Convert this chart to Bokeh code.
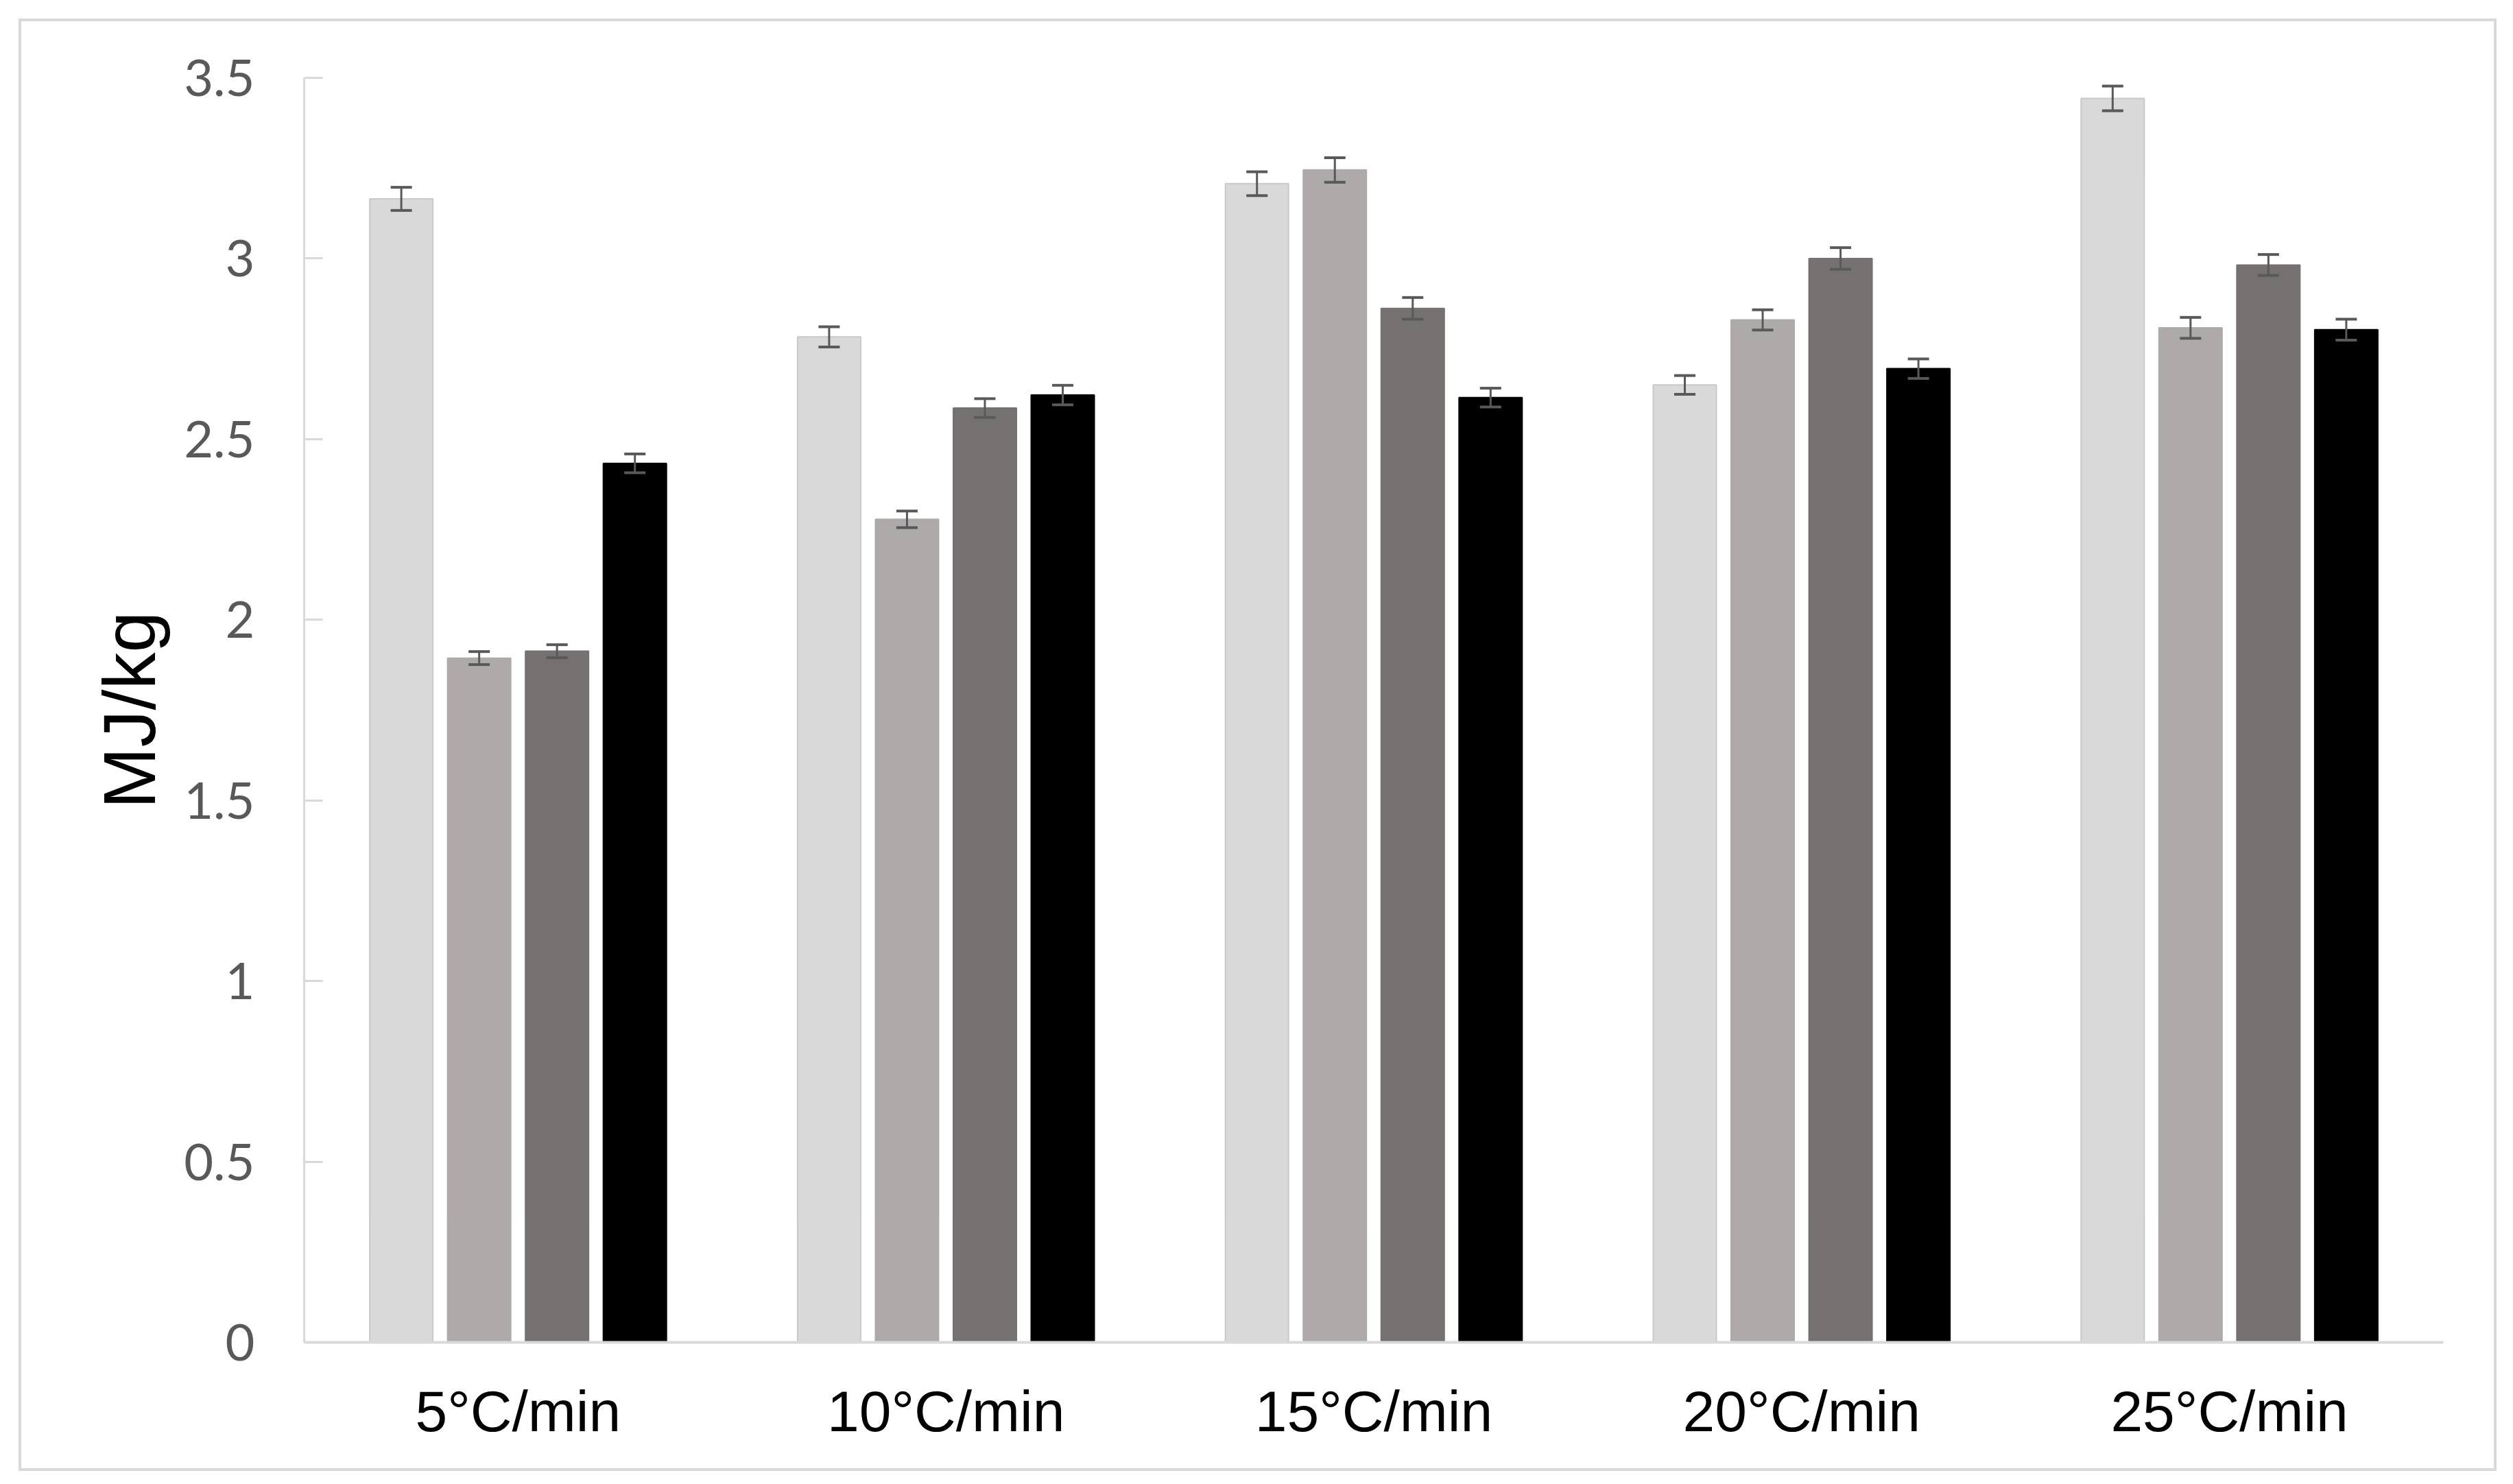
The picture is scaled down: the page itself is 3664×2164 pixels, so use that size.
from bokeh.plotting import figure
from bokeh.models import (ColumnDataSource, FactorRange, Range1d, FixedTicker,
                          Whisker, TeeHead)
from bokeh.transform import dodge
from bokeh.embed import file_html
from bokeh.resources import INLINE

# ---- data ----
categories = ["5°C/min", "10°C/min", "15°C/min", "20°C/min", "25°C/min"]
series_names = ["Series 1", "Series 2", "Series 3", "Series 4"]
s1 = [3.165, 2.783, 3.207, 2.650, 3.443]
s2 = [1.894, 2.278, 3.245, 2.830, 2.808]
s3 = [1.913, 2.586, 2.862, 3.000, 2.982]
s4 = [2.433, 2.622, 2.615, 2.695, 2.803]
e1 = [0.032, 0.028, 0.033, 0.026, 0.034]
e2 = [0.018, 0.023, 0.034, 0.028, 0.029]
e3 = [0.018, 0.026, 0.030, 0.030, 0.029]
e4 = [0.026, 0.027, 0.026, 0.027, 0.029]
y_ticks = [0, 0.5, 1, 1.5, 2, 2.5, 3, 3.5]
y_tick_labels = ["0", "0.5", "1", "1.5", "2", "2.5", "3", "3.5"]
y_label = "MJ/kg"

values = [s1, s2, s3, s4]
errors = [e1, e2, e3, e4]
colors = ["#d9d9d9", "#aeaaaa", "#767171", "#000000"]
outlines = ["#c9c9c9", "#aeaaaa", "#767171", "#000000"]
offsets = [-0.273, -0.091, 0.091, 0.273]
bar_w = 0.1475

# figure = the chart's outer bordered box
W, H = 3613, 2118
p = figure(width=W, height=H, x_range=FactorRange(*categories), y_range=Range1d(0, 3.5),
           output_backend="svg", toolbar_location=None,
           min_border_left=416, min_border_right=78, min_border_top=86, min_border_bottom=188)
p.margin = (27, 0, 0, 27)
p.styles = {"outline": "4px solid #d9d9d9", "outline-offset": "-4px",
            "background-color": "white"}
p.background_fill_color = None
p.border_fill_color = None
p.outline_line_color = None
p.xgrid.visible = False
p.ygrid.visible = False

for vals, errs, col, oc, off, name in zip(values, errors, colors, outlines, offsets, series_names):
    src = ColumnDataSource(dict(cat=categories, val=vals,
                                upper=[v + e for v, e in zip(vals, errs)],
                                lower=[v - e for v, e in zip(vals, errs)]))
    p.vbar(x=dodge("cat", off, range=p.x_range), top="val", width=bar_w, bottom=0,
           source=src, fill_color=col, line_color=oc, line_width=2)
    w = Whisker(base=dodge("cat", off, range=p.x_range), upper="upper", lower="lower",
                source=src, line_color="#595959", line_width=3,
                upper_head=TeeHead(size=31, line_color="#595959", line_width=4),
                lower_head=TeeHead(size=31, line_color="#595959", line_width=4))
    w.level = "overlay"
    p.add_layout(w)

# y axis
ya = p.yaxis[0]
ya.ticker = FixedTicker(ticks=y_ticks)
ya.major_label_overrides = {t: l for t, l in zip(y_ticks, y_tick_labels)}
ya.minor_tick_line_color = None
ya.axis_line_color = "#d9d9d9"
ya.axis_line_width = 3
ya.major_tick_line_color = "#d9d9d9"
ya.major_tick_line_width = 3
ya.major_tick_in = 27
ya.major_tick_out = 0
ya.major_label_text_font = "Lato"
ya.major_label_text_font_size = "74px"
ya.major_label_text_color = "#595959"
ya.major_label_standoff = 72
ya.axis_label = y_label
ya.axis_label_text_font = "Liberation Sans"
ya.axis_label_text_font_size = "108px"
ya.axis_label_text_font_style = "normal"
ya.axis_label_text_color = "#000000"
ya.axis_label_standoff = 16

# x axis
xa = p.xaxis[0]
xa.axis_line_color = "#d9d9d9"
xa.axis_line_width = 4
xa.major_tick_line_color = None
xa.major_tick_in = 0
xa.major_tick_out = 0
xa.minor_tick_line_color = None
xa.major_label_text_font = "Liberation Sans"
xa.major_label_text_font_size = "84px"
xa.major_label_text_color = "#000000"
xa.major_label_standoff = 53

open("out.html", "w").write(file_html(p, INLINE))
